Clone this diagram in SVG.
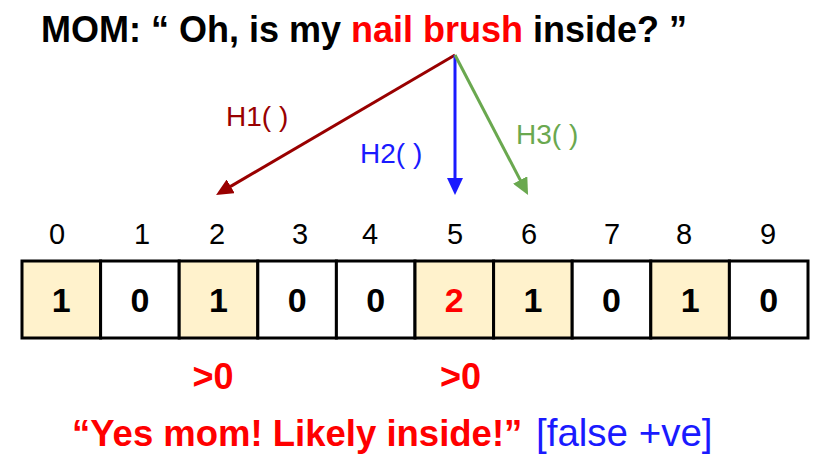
<svg xmlns="http://www.w3.org/2000/svg" width="828" height="468" viewBox="0 0 828 468">
<style>
text{font-family:"Liberation Sans",Arial,sans-serif}
.b{font-weight:bold}
.red{fill:#ff0000}
.idx{font-size:29px;text-anchor:middle;fill:#000}
.val{font-size:34px;font-weight:bold;text-anchor:middle;fill:#000}
.val.red{fill:#ff0000}
.cell{stroke:#000;stroke-width:3;fill:#fff}
.hi{fill:#fff2cc}
.lbl{font-size:28px}
</style>
<defs>
<marker id="ah1" markerUnits="userSpaceOnUse" markerWidth="17" markerHeight="16" refX="5" refY="8" orient="auto"><path d="M0,0 L17,8 L0,16 z" fill="#990000"/></marker>
<marker id="ah2" markerUnits="userSpaceOnUse" markerWidth="17" markerHeight="16" refX="5" refY="8" orient="auto"><path d="M0,0 L17,8 L0,16 z" fill="#1a1aff"/></marker>
<marker id="ah3" markerUnits="userSpaceOnUse" markerWidth="17" markerHeight="16" refX="5" refY="8" orient="auto"><path d="M0,0 L17,8 L0,16 z" fill="#6aa84f"/></marker>
</defs>
<rect width="828" height="468" fill="#fff"/>
<g id="title">
<text x="41" y="42" class="b" font-size="36px" fill="#000">MOM: “ Oh, is my <tspan class="red">nail brush</tspan> inside? ”</text>
</g>
<g id="connectors" fill="none" stroke-width="3">
<line x1="455" y1="55" x2="226.4" y2="188.9" stroke="#990000" marker-end="url(#ah1)"/>
<line x1="455" y1="55" x2="455" y2="183" stroke="#1a1aff" marker-end="url(#ah2)"/>
<line x1="455" y1="55" x2="522.5" y2="184.4" stroke="#6aa84f" marker-end="url(#ah3)"/>
</g>
<g id="labels">
<text x="226" y="126" class="lbl" fill="#990000">H1( )</text>
<text x="360" y="163" class="lbl" fill="#1a1aff">H2( )</text>
<text x="516" y="144" class="lbl" fill="#6aa84f">H3( )</text>
</g>
<g id="indices">
<text class="idx" x="57" y="244">0</text>
<text class="idx" x="142" y="244">1</text>
<text class="idx" x="217" y="244">2</text>
<text class="idx" x="300" y="244">3</text>
<text class="idx" x="370" y="244">4</text>
<text class="idx" x="455" y="244">5</text>
<text class="idx" x="529" y="244">6</text>
<text class="idx" x="612" y="244">7</text>
<text class="idx" x="684" y="244">8</text>
<text class="idx" x="768" y="244">9</text>
</g>
<g id="cell0"><rect class="cell hi" x="22" y="261" width="78.6" height="77"/><text class="val" x="61.3" y="312">1</text></g>
<g id="cell1"><rect class="cell" x="100.6" y="261" width="78.6" height="77"/><text class="val" x="139.9" y="312">0</text></g>
<g id="cell2"><rect class="cell hi" x="179.2" y="261" width="78.6" height="77"/><text class="val" x="218.5" y="312">1</text></g>
<g id="cell3"><rect class="cell" x="257.8" y="261" width="78.6" height="77"/><text class="val" x="297.1" y="312">0</text></g>
<g id="cell4"><rect class="cell" x="336.4" y="261" width="78.6" height="77"/><text class="val" x="375.7" y="312">0</text></g>
<g id="cell5"><rect class="cell hi" x="415" y="261" width="78.6" height="77"/><text class="val red" x="454.3" y="312">2</text></g>
<g id="cell6"><rect class="cell hi" x="493.6" y="261" width="78.6" height="77"/><text class="val" x="532.9" y="312">1</text></g>
<g id="cell7"><rect class="cell" x="572.2" y="261" width="78.6" height="77"/><text class="val" x="611.5" y="312">0</text></g>
<g id="cell8"><rect class="cell hi" x="650.8" y="261" width="78.6" height="77"/><text class="val" x="690.1" y="312">1</text></g>
<g id="cell9"><rect class="cell" x="729.4" y="261" width="78.6" height="77"/><text class="val" x="768.7" y="312">0</text></g>
<g id="results">
<text x="213" y="389" class="b red" font-size="36px" text-anchor="middle">&gt;0</text>
<text x="460.5" y="389" class="b red" font-size="36px" text-anchor="middle">&gt;0</text>
</g>
<g id="answer">
<text x="72" y="446" class="b red" font-size="36.5px">“Yes mom! Likely inside!”</text>
<text x="536" y="446" font-size="38.5px" fill="#1a1aff">[false +ve]</text>
</g>
</svg>
